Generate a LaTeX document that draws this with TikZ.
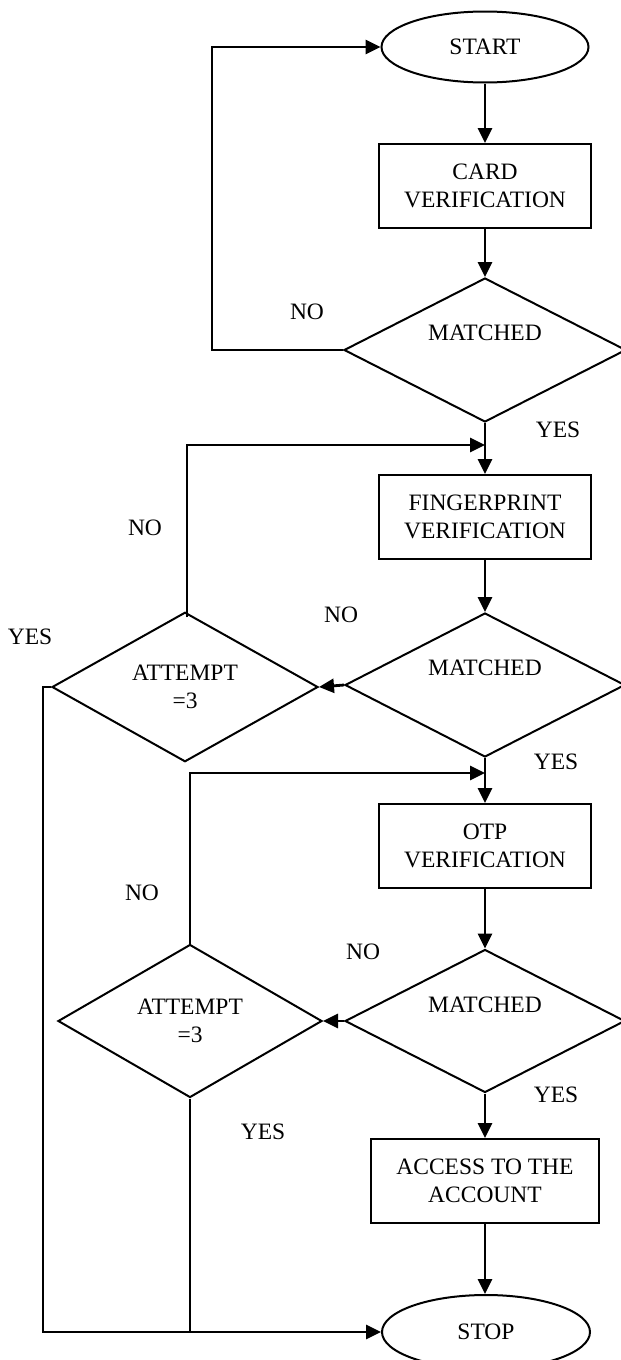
\documentclass[tikz,border=0pt]{standalone}
\usepackage{fontspec}
\setmainfont{Liberation Serif}
\usetikzlibrary{arrows.meta,shapes.geometric,positioning}

\begin{document}
\begin{tikzpicture}[
		x=1pt,y=-1pt,
		font=\fontsize{23.5}{28}\selectfont,
		terminal/.style={draw,ellipse,line width=2pt,minimum width=207pt,minimum height=71pt,inner sep=0pt},
		process/.style={draw,rectangle,line width=2pt,minimum width=212pt,minimum height=84pt,inner sep=0pt,align=center},
		decision/.style={draw,diamond,line width=2pt,inner sep=0pt,align=center},
		lbl/.style={inner sep=0pt},
		flow/.style={-{Triangle[length=15pt,width=14pt]},line width=2.8pt},
		line/.style={line width=2.8pt}
		]
		\useasboundingbox (0,0) rectangle (621,1360);
		
		% Blocchi principali
		\node[terminal] (start) at (485,47) {START};
		\node[process] (card) at (485,186) {CARD\\VERIFICATION};
		\node[decision,minimum width=282pt,minimum height=144pt,label={[yshift=17pt]center:MATCHED}] (match1) at (485,350) {};
		\node[process] (finger) at (485,517) {FINGERPRINT\\VERIFICATION};
		\node[decision,minimum width=280pt,minimum height=144pt,label={[yshift=17pt]center:MATCHED}] (match2) at (485,685) {};
		\node[decision,minimum width=266pt,minimum height=134pt] (attempt1) at (185,687) {ATTEMPT\\=3};
		\node[process] (otp) at (485,846) {OTP\\VERIFICATION};
		\node[decision,minimum width=280pt,minimum height=143pt,label={[yshift=16pt]center:MATCHED}] (match3) at (485,1021) {};
		\node[decision,minimum width=264pt,minimum height=153pt] (attempt2) at (190,1021) {ATTEMPT\\=3};
		\node[process,minimum width=228pt] (access) at (485,1181) {ACCESS TO THE\\ACCOUNT};
		\node[terminal,minimum width=208pt,minimum height=74pt] (stop) at (486,1332) {STOP};
		
		% Punti di ingresso
		\coordinate (join1) at (485,445);
		\coordinate (join2) at (485,773);
		
		% Frecce principali
		\draw[flow] (start) -- (card);
		\draw[flow] (card) -- (match1);
		\draw[flow] (match1) -- (finger);
		\draw[flow] (finger) -- (match2);
		\draw[flow] (match2) -- (otp);
		\draw[flow] (otp) -- (match3);
		\draw[flow] (match3) -- (access);
		\draw[flow] (access) -- (access |- stop.north);
		
		% Rami NO
		\draw[flow] (match1.west) -- ++(-131,0) |- (start.west);
		\draw[flow] (match2.west) -- (attempt1.east);
		\draw[flow] (match3.west) -- (attempt2.east);
		\draw[flow] ([xshift=2pt,yshift=-6pt]attempt1.north) |- (join1);
		\draw[flow] ([yshift=-2pt]attempt2.north) |- (join2);
		
		% Rami YES verso STOP
		\draw[flow] (attempt1.west) -- ++(-8,0) |- (stop.west);
		\draw[line] (attempt2.south) -- (attempt2.south |- stop.west);
		
		% Etichette
		\node[lbl] (no1) at (307,312) {NO};
		\node[lbl] (yes1) at (558,430) {YES};
		\node[lbl] (no2) at (145,528) {NO};
		\node[lbl] (no3) at (341,615) {NO};
		\node[lbl] (yes2) at (30,637) {YES};
		\node[lbl] (yes3) at (556,762) {YES};
		\node[lbl] (no4) at (142,893) {NO};
		\node[lbl] (no5) at (363,952) {NO};
		\node[lbl] (yes4) at (556,1095) {YES};
		\node[lbl] (yes5) at (263,1132) {YES};
		
	\end{tikzpicture}
\end{document}
